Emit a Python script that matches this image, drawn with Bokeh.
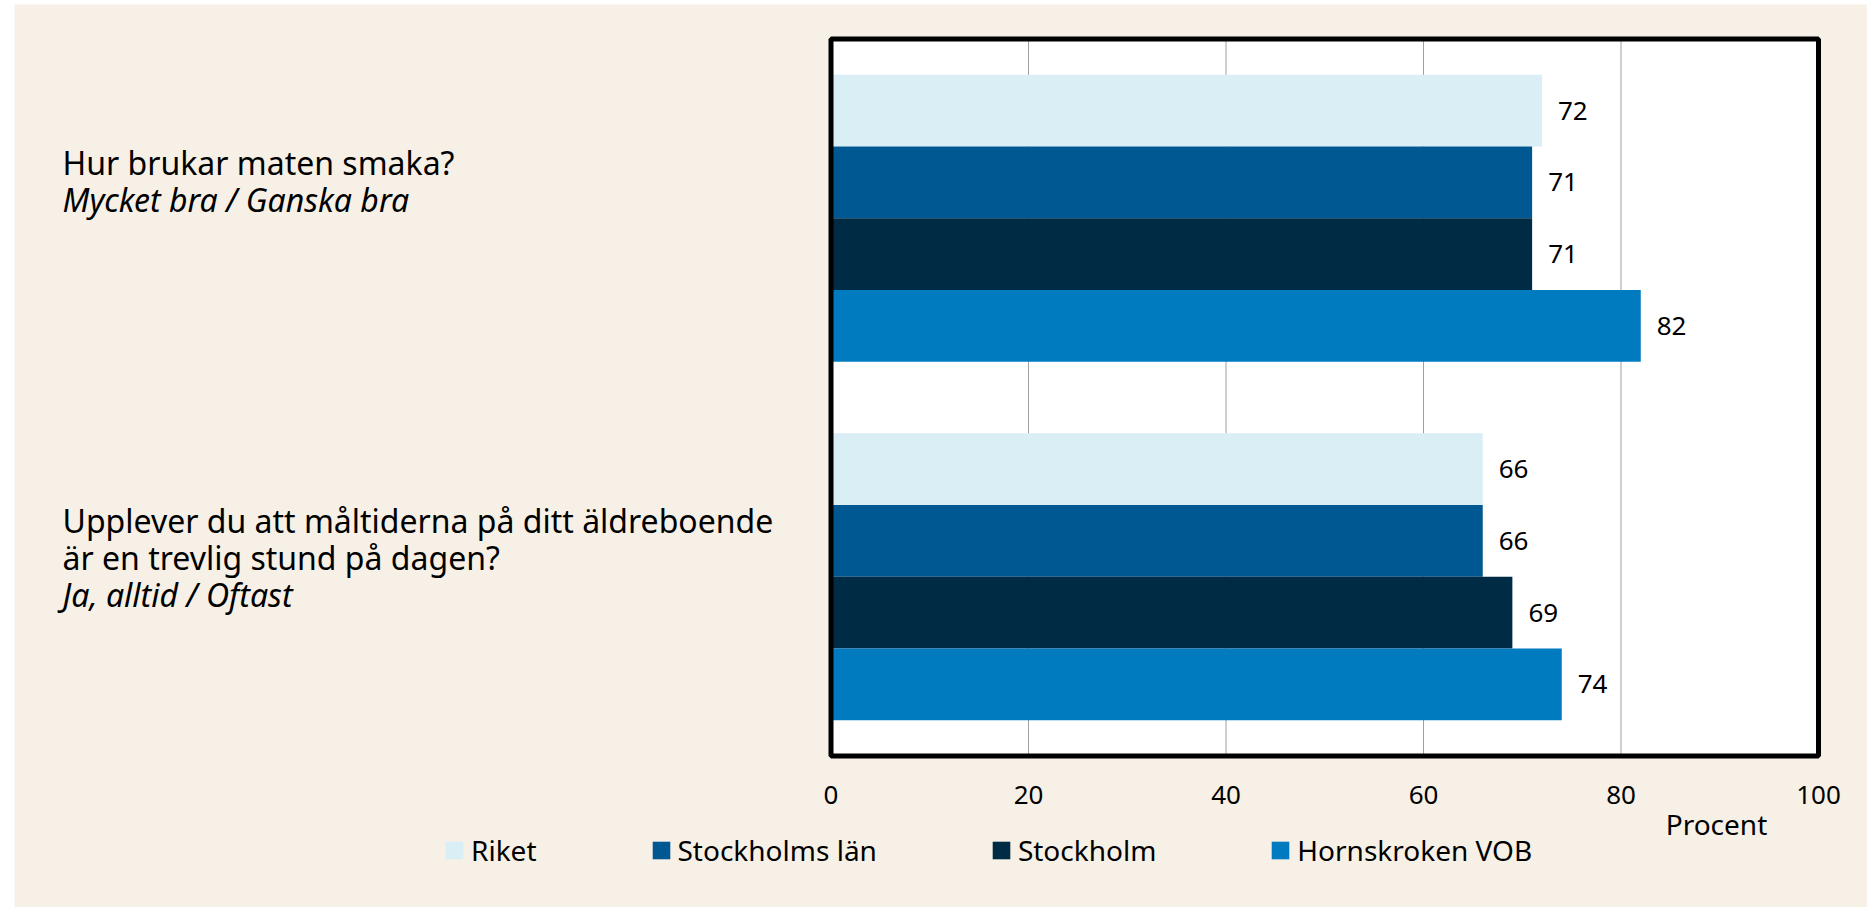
from bokeh.plotting import figure
from bokeh.models import Range1d, FixedTicker, ColumnDataSource, Label
from bokeh.core.properties import value
from bokeh.embed import file_html
from bokeh.resources import INLINE

# ---- data ----
questions = [
    ["Hur brukar maten smaka?"],
    ["Upplever du att måltiderna på ditt äldreboende", "är en trevlig stund på dagen?"],
]
answers = ["Mycket bra / Ganska bra", "Ja, alltid / Oftast"]
series = ["Riket", "Stockholms län", "Stockholm", "Hornskroken VOB"]
riket = [72, 66]
stockholms_lan = [71, 66]
stockholm = [71, 69]
hornskroken = [82, 74]
x_ticks = [0, 20, 40, 60, 80, 100]
x_label = "Procent"

values_by_series = [riket, stockholms_lan, stockholm, hornskroken]
colors = ["#DAEEF5", "#005893", "#002B45", "#007BC0"]

FONT = "Noto Sans"
BEIGE = "#F7F0E6"

# ---- layout (pixels inside the figure, origin top-left) ----
W, H = 1853, 903
chart_left, chart_right = 816.5, 1804.0
chart_top, chart_bottom = 34.5, 751.5

n_series = len(series)
group_rows = n_series + 1
n_rows = group_rows * len(questions)
px_per_x = (chart_right - chart_left) / (x_ticks[-1] - x_ticks[0])
px_per_row = (chart_bottom - chart_top) / n_rows


def px_x(px):
    return x_ticks[0] + (px - chart_left) / px_per_x


def px_y(py):
    return (py - chart_top) / px_per_row


p = figure(width=W, height=H, margin=(4, 0, 0, 14),
           x_range=Range1d(px_x(0), px_x(W)), y_range=Range1d(px_y(H), px_y(0)),
           min_border=0, output_backend="svg", toolbar_location=None)
p.border_fill_color = BEIGE
p.background_fill_color = BEIGE
p.outline_line_color = None

p.yaxis.visible = False
p.grid.visible = False

xa = p.xaxis[0]
xa.fixed_location = n_rows
xa.ticker = FixedTicker(ticks=x_ticks)
xa.axis_line_color = None
xa.major_tick_line_color = None
xa.minor_tick_line_color = None
xa.major_label_standoff = 24
xa.major_label_text_font = FONT
xa.major_label_text_font_size = "26px"
xa.major_label_text_color = "black"

# white plotting box
p.quad(left=[x_ticks[0]], right=[x_ticks[-1]], top=[0], bottom=[n_rows],
       fill_color="white", line_color=None, level="image")
# vertical grid lines at the ticks
p.segment(x0=x_ticks[1:-1], x1=x_ticks[1:-1], y0=[0] * (len(x_ticks) - 2),
          y1=[n_rows] * (len(x_ticks) - 2), line_color="#A0A0A0", line_width=1,
          level="underlay")

for i, (name, vals, col) in enumerate(zip(series, values_by_series, colors)):
    ys = [g * group_rows + i + 1 for g in range(len(questions))]
    src = ColumnDataSource(dict(y=ys, right=vals, txt=[str(v) for v in vals]))
    p.hbar(y="y", left=0, right="right", height=1.0, source=src,
           fill_color=col, line_color=None, legend_label=name)
    p.text(x="right", y="y", text="txt", source=src, x_offset=16,
           text_baseline="middle", text_align="left",
           text_font=value(FONT), text_font_size="26px", text_color="black")

# black border of the plotting box
p.quad(left=[x_ticks[0]], right=[x_ticks[-1]], top=[0], bottom=[n_rows],
       fill_color=None, line_color="black", line_width=5, level="guide")

# question labels left of the plotting box
label_x = px_x(48)
first_baseline_px = [-55.5, -56.5]
line_gap_px = 37
lx, ly, lt, ls = [], [], [], []
for g, (qlines, ans) in enumerate(zip(questions, answers)):
    center = g * group_rows + group_rows / 2.0
    lines = qlines + [ans]
    for k, line in enumerate(lines):
        lx.append(label_x)
        ly.append(center + (first_baseline_px[g] + k * line_gap_px) / px_per_row)
        lt.append(line)
        ls.append("italic" if k == len(lines) - 1 else "normal")
p.text(x=lx, y=ly, text=lt, text_font_style=ls, text_font=value(FONT),
       text_font_size="32px", text_color="black", text_baseline="alphabetic",
       text_align="left")

# x axis title
p.add_layout(Label(x=px_x(1702), y=px_y(819), text=x_label, text_font=FONT,
                   text_font_size="28px", text_color="black",
                   text_align="center", text_baseline="alphabetic"))

lg = p.legend[0]
lg.orientation = "horizontal"
lg.location = (429, 38)
lg.border_line_color = None
lg.background_fill_alpha = 0
lg.padding = 0
lg.margin = 0
lg.spacing = 113
lg.glyph_width = 22
lg.glyph_height = 22
lg.label_standoff = 6
lg.label_text_font = FONT
lg.label_text_font_size = "28px"
lg.label_text_color = "black"

open("out.html", "w").write(file_html(p, INLINE))
